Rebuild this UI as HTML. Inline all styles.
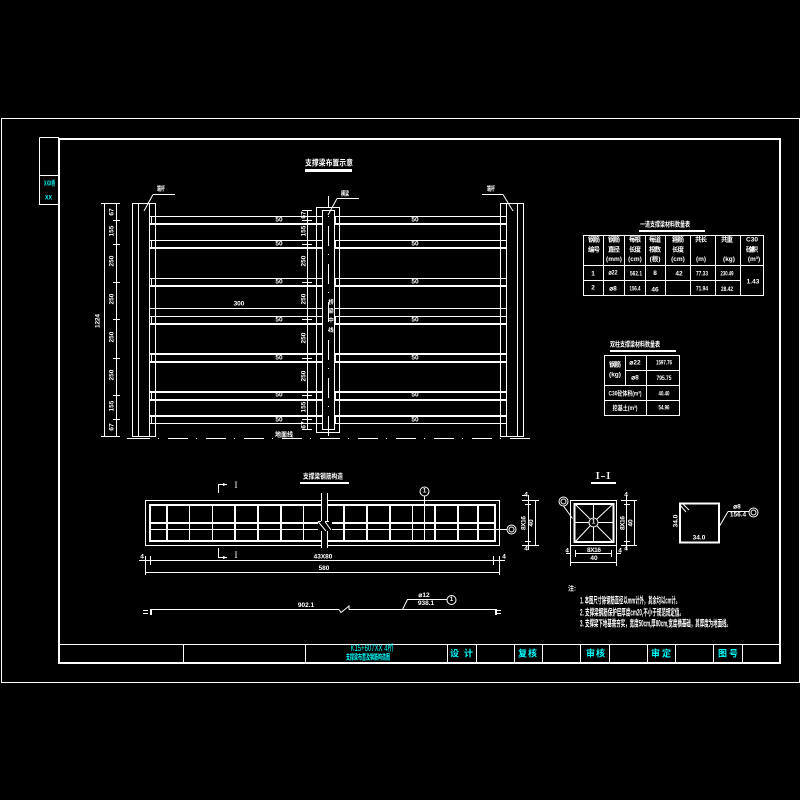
<!DOCTYPE html>
<html><head><meta charset="utf-8"><style>
html,body{margin:0;padding:0;background:#000;width:800px;height:800px;overflow:hidden}
svg{display:block}
.l{fill:none;stroke:#fff;stroke-width:1;shape-rendering:crispEdges}
.t{fill:none;stroke:#fff;stroke-width:2;shape-rendering:crispEdges}
.a{fill:none;stroke:#fff;stroke-width:1}
text{fill:#fff;font-family:"Liberation Sans","Noto Sans CJK SC",sans-serif;font-size:6.5px;text-anchor:middle;dominant-baseline:central;font-weight:bold}
.c text,text.c{fill:#0ff}
</style></head><body>
<svg width="800" height="800" viewBox="0 0 800 800" xmlns="http://www.w3.org/2000/svg">
<rect width="800" height="800" fill="#000"/>
<!-- frames -->
<path class="l" d="M1.5 118.5H799.5V682.5H1.5Z M39.5 137.5H59 M39.5 137.5V204.5H59 M39.5 175.5H59"/>
<path class="t" d="M59 139H780V663H59Z"/>
<path class="l" d="M59 644.5H780 M183.5 644V663 M305.5 644V663 M447.5 644V663 M476.5 644V663 M514.5 644V663 M542.5 644V663 M580.5 644V663 M609.5 644V663 M647.5 644V663 M675.5 644V663 M713.5 644V663 M742.5 644V663"/>
<g class="c">
<text x="49.5" y="184" textLength="11" lengthAdjust="spacingAndGlyphs" style="font-size:7px">XXX桥</text>
<text x="48.5" y="198" textLength="7" lengthAdjust="spacingAndGlyphs">XX</text>
<text x="372" y="648" textLength="43" lengthAdjust="spacingAndGlyphs" style="font-weight:normal;font-size:9px">K15+607XX 4桥</text>
<text x="368" y="657" textLength="44" lengthAdjust="spacingAndGlyphs" style="font-size:7.5px">支撑梁布置及钢筋构造图</text>
<text x="461.5" y="653.5" textLength="23" style="font-size:9px">设 计</text>
<text x="527.5" y="653.5" textLength="19" style="font-size:9px">复 核</text>
<text x="595.5" y="653.5" textLength="19" style="font-size:9px">审 核</text>
<text x="661" y="653.5" textLength="20" style="font-size:9px">审 定</text>
<text x="728" y="653.5" textLength="20" style="font-size:9px">图 号</text>
</g>
<!-- elevation -->
<path class="l" d="M104.5 203V436 M116.5 203V436 M101 203.5H120 M101 436.5H120
M113 220.5H120 M113 244.5H120 M113 282.5H120 M113 319.5H120 M113 358.5H120 M113 395.5H120 M113 419.5H120
M132.5 203.5H155.5V436.5H132.5Z M138.5 203V436 M149.5 203V436
M500.5 203.5H523.5V436.5H500.5Z M506.5 203V436 M517.5 203V436
M316.5 207.5H339.5V432.5H316.5Z M322.5 210.5H334.5V429.5H322.5Z
M307.5 210V430 M302 210.5H312 M302 429.5H312
M302 220.5H312 M302 244.5H312 M302 282.5H312 M302 319.5H312 M302 358.5H312 M302 395.5H312 M302 419.5H312
M149 216.5H322 M334 216.5H506 M149 240.5H322 M334 240.5H506 M149 278.5H322 M334 278.5H506 M149 308.5H322 M334 308.5H506 M149 316.5H322 M334 316.5H506 M149 423.5H322 M334 423.5H506
M151.5 216V224 M151.5 240V248 M151.5 278V286 M151.5 316V324 M151.5 353V362 M151.5 391V400 M151.5 415V424
M335.5 216V224 M335.5 240V248 M335.5 278V286 M335.5 316V324 M335.5 353V362 M335.5 391V400 M335.5 415V424
M153 194.5H175 M337 198.5H359 M482 194.5H503"/>
<path class="t" d="M149 224H322 M334 224H506 M149 248H322 M334 248H506 M149 286H322 M334 286H506 M149 324H322 M334 324H506 M149 354H322 M334 354H506 M149 362H322 M334 362H506 M149 392H322 M334 392H506 M149 400H322 M334 400H506 M149 416H322 M334 416H506"/>
<path class="a" d="M153 194.5L144 211 M337 198.5L328 215 M503 194.5L513 211"/>
<path class="l" stroke-dasharray="20 8 1 9" stroke-dashoffset="8" d="M328.5 196V436"/>
<path class="l" stroke-dasharray="20 8 1 9" d="M130 438.5H532"/>
<path class="l" d="M127 438.5H131"/>
<text x="329" y="163" textLength="48" lengthAdjust="spacingAndGlyphs" style="font-size:8px">支撑梁布置示意</text>
<path class="t" d="M305 171H352"/><path class="l" d="M305 169.5H352"/>
<text x="161" y="189" textLength="8" lengthAdjust="spacingAndGlyphs">端杆</text>
<text x="345" y="194" textLength="8" lengthAdjust="spacingAndGlyphs">横梁</text>
<text x="491" y="189" textLength="8" lengthAdjust="spacingAndGlyphs">端杆</text>
<g>
<text x="279" y="220">50</text><text x="279" y="244">50</text><text x="279" y="282">50</text><text x="279" y="320">50</text><text x="279" y="358">50</text><text x="279" y="395">50</text><text x="279" y="420">50</text>
<text x="415" y="220">50</text><text x="415" y="244">50</text><text x="415" y="282">50</text><text x="415" y="320">50</text><text x="415" y="358">50</text><text x="415" y="395">50</text><text x="415" y="420">50</text>
<text x="239" y="304">300</text>
</g>
<text x="98" y="321" transform="rotate(-90 98 321)" textLength="14">1224</text>
<text x="112" y="212" transform="rotate(-90 112 212)">67</text>
<text x="112" y="231" transform="rotate(-90 112 231)">155</text>
<text x="112" y="261" transform="rotate(-90 112 261)">250</text>
<text x="112" y="299" transform="rotate(-90 112 299)">250</text>
<text x="112" y="337" transform="rotate(-90 112 337)">250</text>
<text x="112" y="375" transform="rotate(-90 112 375)">250</text>
<text x="112" y="406" transform="rotate(-90 112 406)">155</text>
<text x="112" y="427" transform="rotate(-90 112 427)">67</text>
<text x="304" y="215" transform="rotate(-90 304 215)">67</text>
<text x="304" y="231" transform="rotate(-90 304 231)">155</text>
<text x="304" y="261" transform="rotate(-90 304 261)">250</text>
<text x="304" y="299" transform="rotate(-90 304 299)">250</text>
<text x="304" y="338" transform="rotate(-90 304 338)">250</text>
<text x="304" y="376" transform="rotate(-90 304 376)">250</text>
<text x="304" y="407" transform="rotate(-90 304 407)">155</text>
<text x="304" y="425" transform="rotate(-90 304 425)">67</text>
<text x="331" y="303" style="font-size:5.5px">桥</text>
<text x="331" y="312" style="font-size:5.5px">梁</text>
<text x="331" y="321" style="font-size:5.5px">中</text>
<text x="331" y="331" style="font-size:5.5px">线</text>
<text x="284" y="435" textLength="18" lengthAdjust="spacingAndGlyphs">地面线</text>
<!-- table 1 -->
<text x="665" y="225" textLength="50" lengthAdjust="spacingAndGlyphs" style="font-size:7px">一道支撑梁材料数量表</text>
<path class="t" d="M639 231H705"/>
<path class="l" d="M583.5 235.5H763.5V295.5H583.5Z M583 265.5H764 M583 280.5H740 M603.5 235V295 M624.5 235V295 M645.5 235V295 M665.5 235V295 M690.5 235V295 M715.5 235V295 M740.5 235V295"/>
<g>
<text x="594" y="240" textLength="12">钢 筋</text><text x="594" y="250" textLength="12">编 号</text>
<text x="614" y="240" textLength="12">钢 筋</text><text x="614" y="250" textLength="12">直 径</text><text x="614" y="259.5">(mm)</text>
<text x="635" y="240" textLength="12">每 根</text><text x="635" y="250" textLength="12">长 度</text><text x="635" y="259.5">(cm)</text>
<text x="655" y="240" textLength="12">每 道</text><text x="655" y="250" textLength="12">根 数</text><text x="655" y="259.5">(根)</text>
<text x="678" y="240" textLength="12">箍 筋</text><text x="678" y="250" textLength="12">长 度</text><text x="678" y="259.5">(cm)</text>
<text x="701" y="240" textLength="12">共 长</text><text x="701" y="259.5">(m)</text>
<text x="727" y="240" textLength="12">共 重</text><text x="729" y="259.5">(kg)</text>
<text x="752" y="240">C30</text><text x="752" y="250" textLength="12">砼体积</text><text x="754" y="259.5">(m³)</text>
<text x="593" y="274">1</text><text x="613" y="273" textLength="9" lengthAdjust="spacingAndGlyphs">⌀22</text><text x="636" y="274" textLength="12" lengthAdjust="spacingAndGlyphs">562.1</text><text x="655" y="273.5">8</text><text x="679" y="274">42</text><text x="702" y="274" textLength="12" lengthAdjust="spacingAndGlyphs">77.33</text><text x="727" y="274" textLength="13" lengthAdjust="spacingAndGlyphs">230.49</text>
<text x="593" y="288">2</text><text x="613" y="289">⌀8</text><text x="635" y="289" textLength="11" lengthAdjust="spacingAndGlyphs">156.4</text><text x="655" y="290">46</text><text x="702" y="289" textLength="12" lengthAdjust="spacingAndGlyphs">71.94</text><text x="727" y="289.5" textLength="12" lengthAdjust="spacingAndGlyphs">28.42</text>
<text x="753" y="282">1.43</text>
</g>
<!-- table 2 -->
<text x="635" y="345" textLength="50" lengthAdjust="spacingAndGlyphs" style="font-size:7px">双柱支撑梁材料数量表</text>
<path class="t" d="M610 351H676"/>
<path class="l" d="M604.5 355.5H679.5V415.5H604.5Z M625 370.5H680 M604 385.5H680 M604 400.5H680 M625.5 355V385 M646.5 355V415"/>
<text x="615" y="365" textLength="12">钢 筋</text><text x="615" y="375">(kg)</text>
<text x="635" y="363">⌀22</text><text x="635" y="378">⌀8</text>
<text x="664" y="363" textLength="16" lengthAdjust="spacingAndGlyphs">1597.76</text><text x="664" y="378.5" textLength="15" lengthAdjust="spacingAndGlyphs">795.75</text>
<text x="625" y="394" textLength="33" lengthAdjust="spacingAndGlyphs">C30砼体积(m³)</text><text x="664" y="394" textLength="11" lengthAdjust="spacingAndGlyphs">40.40</text>
<text x="625" y="408.5" textLength="25" lengthAdjust="spacingAndGlyphs">挖基土(m³)</text><text x="664" y="408" textLength="11" lengthAdjust="spacingAndGlyphs">54.96</text>
<!-- plan section -->
<text x="323" y="477" textLength="40" lengthAdjust="spacingAndGlyphs" style="font-size:7px">支撑梁钢筋构造</text>
<path class="t" d="M300 483H349"/>
<path class="l" d="M145.5 500.5H499.5V545.5H145.5Z M149 529.5H507 M189.5 505V541 M212.5 505V541 M303.5 505V541 M412.5 505V541 M424.5 496V541"/>
<path class="t" d="M150 505H495V541H150Z M150 523H495 M167 505V541 M235 505V541 M258 505V541 M281 505V541 M344 505V541 M367 505V541 M390 505V541 M435 505V541 M458 505V541 M478 505V541"/>
<rect x="322" y="499" width="5" height="48" fill="#000"/>
<rect x="318" y="521" width="14" height="10" fill="#000"/>
<path class="l" d="M321.5 493V521 M327.5 493V521 M321.5 531V548 M327.5 531V548 M318 521.5H321 M325 521.5H329"/>
<path class="a" d="M318 521.5L326 531 M325 521.5L331 530"/>
<path class="l" d="M218.5 493V484.5H227 M218.5 548V557.5H227"/>
<path d="M223 483L227 484.5L223 486Z M223 556L227 557.5L223 559Z" fill="#fff"/>
<text x="236" y="485" style="font-family:'Liberation Serif';font-weight:normal;font-size:9px">I</text>
<text x="236" y="555" style="font-family:'Liberation Serif';font-weight:normal;font-size:9px">I</text>
<circle class="a" cx="424.5" cy="491.5" r="4.5"/><text x="424.5" y="491.5" style="font-size:6px">1</text>
<circle class="a" cx="511.5" cy="529.5" r="4.5"/><circle class="a" cx="511.5" cy="529.5" r="2.5"/>
<path class="l" d="M150.5 556V565 M493.5 556V565 M145.5 556V575 M499.5 556V575 M139 560.5H505 M145 572.5H500"/>
<text x="142" y="557">4</text><text x="504" y="557">4</text>
<text x="323" y="557">43X80</text><text x="324" y="568.5">580</text>
<!-- rebar -->
<path class="l" d="M150 609.5H339 M349 609.5H495 M407 599.5H447 M143 610.5H148 M143 613.5H148 M496 610.5H501 M496 613.5H501"/>
<path class="t" d="M151 609V615 M496 609V615"/>
<path class="a" d="M339 609.5L341 612.5L349 606V609.5 M402.5 609.5L407.5 599.5"/>
<circle class="a" cx="451.5" cy="600" r="4.5"/><text x="451.5" y="600" style="font-size:6px">1</text>
<text x="306" y="605.5">902.1</text><text x="424" y="595.5">⌀12</text><text x="426" y="603.5">938.1</text>
<!-- left side dims -->
<path class="l" d="M528.5 495V550 M535.5 500V545 M522 500.5H539 M525 504.5H531 M525 541.5H531 M522 545.5H539 M522 495.5H527"/>
<text x="524" y="523" transform="rotate(-90 524 523)" textLength="14">8X16</text>
<text x="531.5" y="523" transform="rotate(-90 531.5 523)">40</text>
<text x="526" y="495">4</text><text x="526" y="549">4</text>
<!-- I-I -->
<text x="603" y="476.5" style="font-family:'Liberation Serif';font-weight:normal;font-size:10px" textLength="16" lengthAdjust="spacingAndGlyphs">I-I</text>
<path class="t" d="M591 483H616"/>
<path class="l" d="M570.5 500.5H616.5V545.5H570.5Z M574 522.5H589 M598 522.5H613 M593.5 504V518 M593.5 527V542"/>
<path class="t" d="M574.5 504H613.5V542H574.5Z"/>
<path class="a" d="M575 504L590 519 M613 504L597 519 M575 542L590 526 M613 542L597 526 M563.5 506L572.5 518.5"/>
<circle class="a" cx="593.5" cy="522.5" r="4.5" fill="#000"/><text x="593.5" y="522.5" style="font-size:6px">1</text>
<circle class="a" cx="563.5" cy="501.5" r="4.5"/><circle class="a" cx="563.5" cy="501.5" r="2.5"/>
<path class="l" d="M626.5 495V550 M634.5 500V545 M621 500.5H637 M624 504.5H630 M624 541.5H630 M621 545.5H637 M575.5 550V557 M611.5 550V557 M570.5 546V566 M616.5 546V566 M575 553.5H612 M570 562.5H617 M566 553.5H570 M617 553.5H621"/>
<text x="623" y="523" transform="rotate(-90 623 523)" textLength="14">8X16</text>
<text x="631" y="523" transform="rotate(-90 631 523)">40</text>
<text x="626" y="495">4</text><text x="626" y="549">4</text>
<text x="594" y="550.5" textLength="14">8X16</text><text x="594" y="558.5">40</text>
<text x="567" y="551">4</text><text x="620" y="551">4</text>
<!-- stirrup -->
<path class="t" d="M680 503.5H719V542.5H680Z"/>
<path class="a" d="M680 505L686 512 M683 504L689 510 M719 527L728 511.5"/>
<path class="l" d="M728 511.5H749"/>
<circle class="a" cx="753.5" cy="512.5" r="4.5"/><circle class="a" cx="753.5" cy="512.5" r="2.5"/>
<text x="676" y="521" transform="rotate(-90 676 521)">34.0</text>
<text x="699" y="538">34.0</text>
<text x="737" y="507">⌀8</text><text x="738" y="515">156.4</text>
<!-- notes -->
<text x="572" y="589" textLength="8" lengthAdjust="spacingAndGlyphs">注:</text>
<text x="630" y="600.5" textLength="100" lengthAdjust="spacingAndGlyphs" style="font-size:9px">1. 本图尺寸除钢筋直径以mm计外，其余均以cm计。</text>
<text x="632" y="612.5" textLength="104" lengthAdjust="spacingAndGlyphs" style="font-size:9px">2. 支撑梁钢筋保护层厚度cm20,不小于规范规定值。</text>
<text x="655.5" y="623.5" textLength="151" lengthAdjust="spacingAndGlyphs" style="font-size:9px">3. 支撑梁下地基需夯实，宽度50cm,厚80cm,宽度横基础，其厚度为地面线。</text>
</svg>
</body></html>
